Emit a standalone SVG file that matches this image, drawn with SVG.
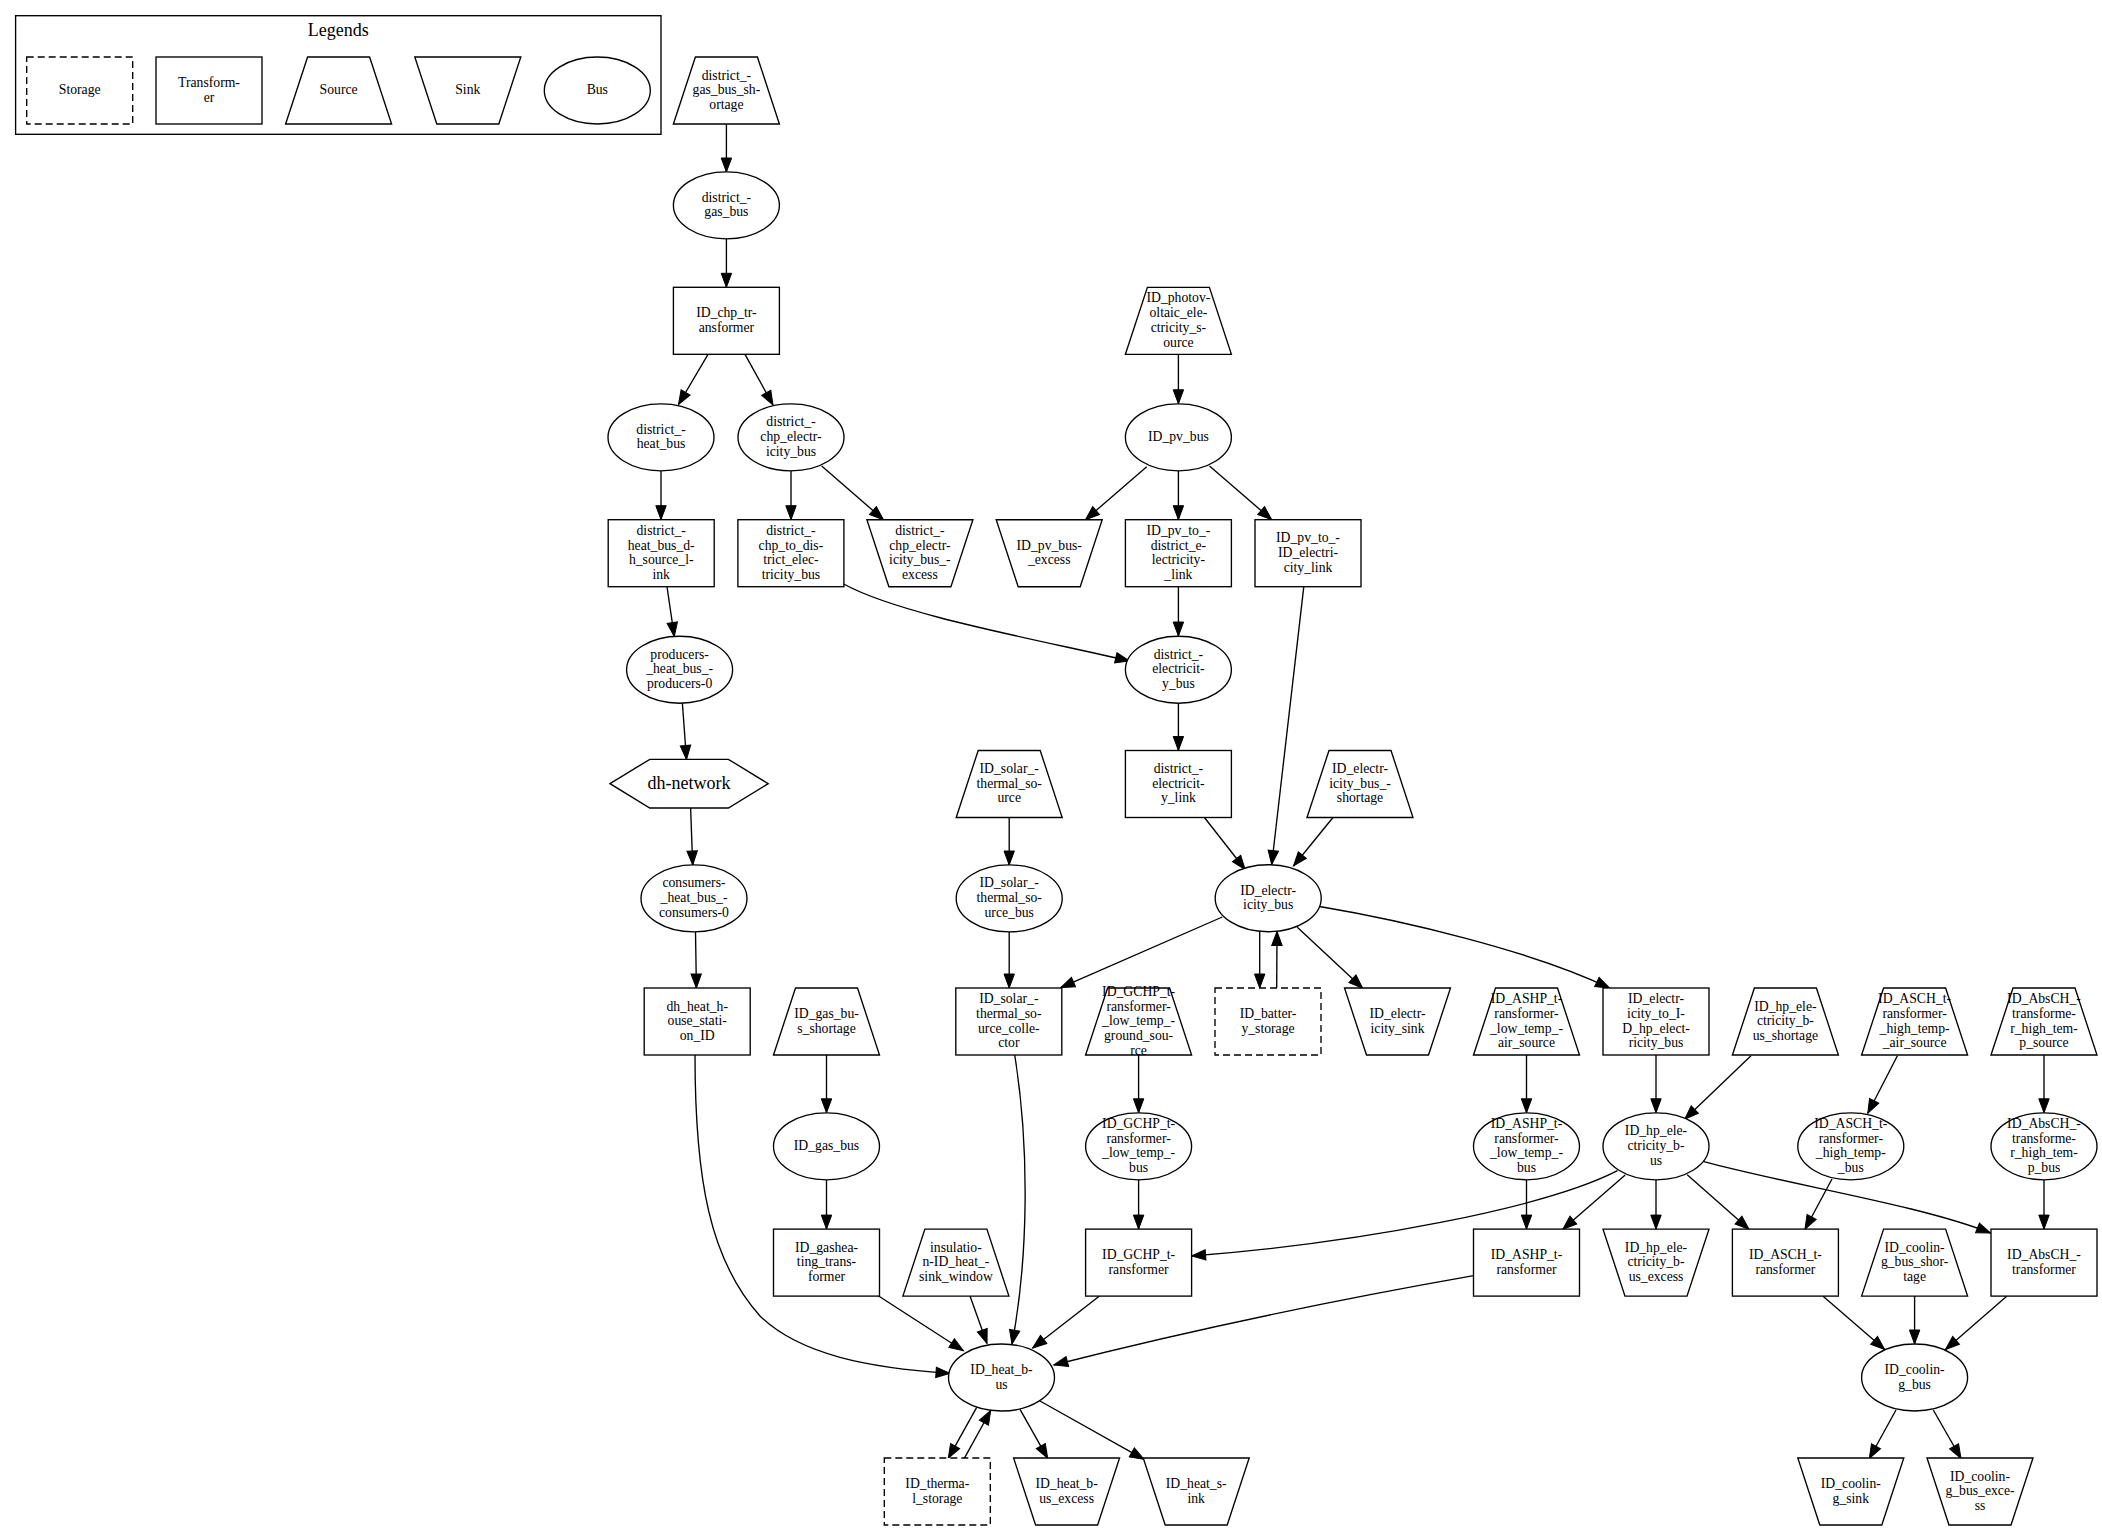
<svg xmlns="http://www.w3.org/2000/svg" width="2102" height="1531" viewBox="0 0 2102 1531">
<style>
.s{fill:#fff;stroke:#000;stroke-width:1.35}
.d{stroke-dasharray:7,4}
.e{fill:none;stroke:#000;stroke-width:1.35;marker-end:url(#a)}
text{font-family:"Liberation Serif","Times New Roman",serif;font-size:13.7px;text-anchor:middle;fill:#000}
.big{font-size:18px}
</style>
<defs>
<marker id="a" markerUnits="userSpaceOnUse" viewBox="0 0 14 10.4" markerWidth="14" markerHeight="10.4" refX="14" refY="5.2" orient="auto" style="overflow:visible">
<path d="M0,0 L14,5.2 L0,10.4 z" fill="#000" stroke="#000" stroke-width="1"/>
</marker>
</defs>
<rect width="2102" height="1531" fill="#fff"/>

<g id="legend">
<rect x="15.6" y="15.7" width="645.4" height="118.6" class="s"/>
<text class="big" x="338.3" y="36">Legends</text>
<g id="legend_storage"><rect x="26.7" y="57" width="106" height="67" class="s d"/><text x="79.7" y="94.2">Storage</text></g>
<g id="legend_transformer"><rect x="156" y="57" width="106" height="67" class="s"/><text><tspan x="209" y="86.85">Transform-</tspan><tspan x="209" y="101.55">er</tspan></text></g>
<g id="legend_source"><polygon points="285.6,124 307.6,57 369.6,57 391.6,124" class="s"/><text x="338.6" y="94.2">Source</text></g>
<g id="legend_sink"><polygon points="414.8,57 520.8,57 498.8,124 436.8,124" class="s"/><text x="467.8" y="94.2">Sink</text></g>
<g id="legend_bus"><ellipse cx="597.3" cy="90.5" rx="53" ry="33.5" class="s"/><text x="597.3" y="94.2">Bus</text></g>
</g>

<g id="connectors">
<path class="e" d="M726.4,124 L726.4,172"/>
<path class="e" d="M726.4,238.8 L726.4,287.3"/>
<path class="e" d="M708,354.3 L678.5,404.5"/>
<path class="e" d="M745,354.3 L773,405"/>
<path class="e" d="M1178.4,354.3 L1178.4,403.8"/>
<path class="e" d="M661,470.8 L661,519.7"/>
<path class="e" d="M791,470.8 L791,519.7"/>
<path class="e" d="M821.7,466 L883.5,519.7"/>
<path class="e" d="M1146.7,466.7 L1085.5,519.7"/>
<path class="e" d="M1178.4,470.8 L1178.4,519.7"/>
<path class="e" d="M1209.5,466 L1271.7,519.7"/>
<path class="e" d="M667,586.7 L674.3,636.5"/>
<path class="e" d="M843.7,584 C900,615 1040,640 1129.4,661"/>
<path class="e" d="M1178.4,586.7 L1178.4,636"/>
<path class="e" d="M1303.8,586.7 L1271.7,864.5"/>
<path class="e" d="M682.4,703.3 L686.5,759.5"/>
<path class="e" d="M1178.4,703.3 L1178.4,750.5"/>
<path class="e" d="M690.6,808 L692.7,865"/>
<path class="e" d="M1009.2,817.5 L1009.2,865"/>
<path class="e" d="M1204.4,817.5 L1245.2,869.5"/>
<path class="e" d="M1333,817.5 L1293.5,866"/>
<path class="e" d="M695.5,932 L696.4,988"/>
<path class="e" d="M1009.2,932 L1009.2,988"/>
<path class="e" d="M1222.3,917 L1060.7,987.7"/>
<path class="e" d="M1259.7,931.5 L1259.7,988"/>
<path class="e" d="M1276.7,988 L1277,931.5"/>
<path class="e" d="M1297.3,927.3 L1362.7,988.3"/>
<path class="e" d="M1319.5,906.5 C1400,920 1530,950 1609.5,988"/>
<path class="e" d="M826.5,1055 L826.5,1112.8"/>
<path class="e" d="M1138.6,1055 L1138.6,1112.8"/>
<path class="e" d="M1526.5,1055 L1526.5,1112.8"/>
<path class="e" d="M1656,1055 L1656,1112.8"/>
<path class="e" d="M1751,1055.7 L1684.7,1119.3"/>
<path class="e" d="M1897.4,1055.7 L1867.8,1113.3"/>
<path class="e" d="M2044,1055 L2044,1112.8"/>
<path class="e" d="M826.5,1179.8 L826.5,1229.1"/>
<path class="e" d="M1138.6,1179.8 L1138.6,1229.1"/>
<path class="e" d="M1526.5,1179.8 L1526.5,1229.1"/>
<path class="e" d="M1617.5,1170.7 C1545,1208 1360,1243 1191.6,1256"/>
<path class="e" d="M1625.2,1175 L1562.8,1229.3"/>
<path class="e" d="M1656,1179.8 L1656,1229.1"/>
<path class="e" d="M1687.2,1174.8 L1749,1229.3"/>
<path class="e" d="M1832,1179 L1805,1229.3"/>
<path class="e" d="M1704,1161.6 C1790,1185 1920,1205 1990.5,1233"/>
<path class="e" d="M2044,1179.8 L2044,1229.1"/>
<path class="e" d="M695,1055 C695,1180 710,1260 760,1316 C800,1355 870,1368 950,1373.3"/>
<path class="e" d="M1014.7,1055 C1030,1150 1028,1260 1012,1344"/>
<path class="e" d="M878.6,1296 L963.4,1350.7"/>
<path class="e" d="M970,1296 L987,1343.5"/>
<path class="e" d="M1099.5,1296 L1032.6,1348"/>
<path class="e" d="M1473.6,1275.7 Q1250,1315 1053.8,1365"/>
<path class="e" d="M976.7,1407.3 L948.3,1458.3"/>
<path class="e" d="M964.3,1458.3 L990.7,1410.5"/>
<path class="e" d="M1020,1409.3 L1047.7,1458.3"/>
<path class="e" d="M1040,1401 L1144,1459.3"/>
<path class="e" d="M1822.8,1296 L1884.7,1349.5"/>
<path class="e" d="M1914.6,1296 L1914.6,1344"/>
<path class="e" d="M2007,1296 L1945.5,1349.5"/>
<path class="e" d="M1896,1410 L1869.3,1458.5"/>
<path class="e" d="M1933.3,1410 L1961,1458.5"/>
</g>

<g id="district_gas_bus_shortage"><polygon points="673.4,124 695.4,57 757.4,57 779.4,124" class="s"/><text><tspan x="726.4" y="79.5">district_-</tspan><tspan x="726.4" y="94.2">gas_bus_sh-</tspan><tspan x="726.4" y="108.9">ortage</tspan></text></g>
<g id="district_gas_bus"><ellipse cx="726.4" cy="205.3" rx="53" ry="33.5" class="s"/><text><tspan x="726.4" y="201.65">district_-</tspan><tspan x="726.4" y="216.35">gas_bus</tspan></text></g>
<g id="ID_chp_transformer"><rect x="673.4" y="287.3" width="106" height="67" class="s"/><text><tspan x="726.4" y="317.15">ID_chp_tr-</tspan><tspan x="726.4" y="331.85">ansformer</tspan></text></g>
<g id="ID_photovoltaic_electricity_source"><polygon points="1125.4,354.3 1147.4,287.3 1209.4,287.3 1231.4,354.3" class="s"/><text><tspan x="1178.4" y="302.45">ID_photov-</tspan><tspan x="1178.4" y="317.15">oltaic_ele-</tspan><tspan x="1178.4" y="331.85">ctricity_s-</tspan><tspan x="1178.4" y="346.55">ource</tspan></text></g>
<g id="district_heat_bus"><ellipse cx="661" cy="437.3" rx="53" ry="33.5" class="s"/><text><tspan x="661" y="433.65">district_-</tspan><tspan x="661" y="448.35">heat_bus</tspan></text></g>
<g id="district_chp_electricity_bus"><ellipse cx="791" cy="437.3" rx="53" ry="33.5" class="s"/><text><tspan x="791" y="426.3">district_-</tspan><tspan x="791" y="441">chp_electr-</tspan><tspan x="791" y="455.7">icity_bus</tspan></text></g>
<g id="ID_pv_bus"><ellipse cx="1178.4" cy="437.3" rx="53" ry="33.5" class="s"/><text x="1178.4" y="441">ID_pv_bus</text></g>

<g id="district_heat_bus_dh_source_link"><rect x="608.2" y="519.7" width="106" height="67" class="s"/><text><tspan x="661.2" y="534.85">district_-</tspan><tspan x="661.2" y="549.55">heat_bus_d-</tspan><tspan x="661.2" y="564.25">h_source_l-</tspan><tspan x="661.2" y="578.95">ink</tspan></text></g>
<g id="district_chp_to_district_electricity_bus"><rect x="737.9" y="519.7" width="106" height="67" class="s"/><text><tspan x="790.9" y="534.85">district_-</tspan><tspan x="790.9" y="549.55">chp_to_dis-</tspan><tspan x="790.9" y="564.25">trict_elec-</tspan><tspan x="790.9" y="578.95">tricity_bus</tspan></text></g>
<g id="district_chp_electricity_bus_excess"><polygon points="866.9,519.7 972.9,519.7 950.9,586.7 888.9,586.7" class="s"/><text><tspan x="919.9" y="534.85">district_-</tspan><tspan x="919.9" y="549.55">chp_electr-</tspan><tspan x="919.9" y="564.25">icity_bus_-</tspan><tspan x="919.9" y="578.95">excess</tspan></text></g>
<g id="ID_pv_bus_excess"><polygon points="996.2,519.7 1102.2,519.7 1080.2,586.7 1018.2,586.7" class="s"/><text><tspan x="1049.2" y="549.55">ID_pv_bus-</tspan><tspan x="1049.2" y="564.25">_excess</tspan></text></g>
<g id="ID_pv_to_district_electricity_link"><rect x="1125.4" y="519.7" width="106" height="67" class="s"/><text><tspan x="1178.4" y="534.85">ID_pv_to_-</tspan><tspan x="1178.4" y="549.55">district_e-</tspan><tspan x="1178.4" y="564.25">lectricity-</tspan><tspan x="1178.4" y="578.95">_link</tspan></text></g>
<g id="ID_pv_to_ID_electricity_link"><rect x="1255" y="519.7" width="106" height="67" class="s"/><text><tspan x="1308" y="542.2">ID_pv_to_-</tspan><tspan x="1308" y="556.9">ID_electri-</tspan><tspan x="1308" y="571.6">city_link</tspan></text></g>

<g id="producers_heat_bus_producers_0"><ellipse cx="679.6" cy="669.7" rx="53" ry="33.5" class="s"/><text><tspan x="679.6" y="658.7">producers-</tspan><tspan x="679.6" y="673.4">_heat_bus_-</tspan><tspan x="679.6" y="688.1">producers-0</tspan></text></g>
<g id="district_electricity_bus"><ellipse cx="1178.4" cy="669.7" rx="53" ry="33.5" class="s"/><text><tspan x="1178.4" y="658.7">district_-</tspan><tspan x="1178.4" y="673.4">electricit-</tspan><tspan x="1178.4" y="688.1">y_bus</tspan></text></g>

<g id="dh_network"><polygon points="610,783.7 649.8,759.3 728.4,759.3 768.2,783.7 728.4,808 649.8,808" class="s"/><text class="big" x="689" y="788.5">dh-network</text></g>
<g id="ID_solar_thermal_source"><polygon points="956.2,817.5 978.2,750.5 1040.2,750.5 1062.2,817.5" class="s"/><text><tspan x="1009.2" y="773">ID_solar_-</tspan><tspan x="1009.2" y="787.7">thermal_so-</tspan><tspan x="1009.2" y="802.4">urce</tspan></text></g>
<g id="district_electricity_link"><rect x="1125.4" y="750.5" width="106" height="67" class="s"/><text><tspan x="1178.4" y="773">district_-</tspan><tspan x="1178.4" y="787.7">electricit-</tspan><tspan x="1178.4" y="802.4">y_link</tspan></text></g>
<g id="ID_electricity_bus_shortage"><polygon points="1307,817.5 1329,750.5 1391,750.5 1413,817.5" class="s"/><text><tspan x="1360" y="773">ID_electr-</tspan><tspan x="1360" y="787.7">icity_bus_-</tspan><tspan x="1360" y="802.4">shortage</tspan></text></g>

<g id="consumers_heat_bus_consumers_0"><ellipse cx="694" cy="898.4" rx="53" ry="33.5" class="s"/><text><tspan x="694" y="887.4">consumers-</tspan><tspan x="694" y="902.1">_heat_bus_-</tspan><tspan x="694" y="916.8">consumers-0</tspan></text></g>
<g id="ID_solar_thermal_source_bus"><ellipse cx="1009.2" cy="898.4" rx="53" ry="33.5" class="s"/><text><tspan x="1009.2" y="887.4">ID_solar_-</tspan><tspan x="1009.2" y="902.1">thermal_so-</tspan><tspan x="1009.2" y="916.8">urce_bus</tspan></text></g>
<g id="ID_electricity_bus"><ellipse cx="1268.2" cy="898.2" rx="53" ry="33.5" class="s"/><text><tspan x="1268.2" y="894.55">ID_electr-</tspan><tspan x="1268.2" y="909.25">icity_bus</tspan></text></g>

<g id="dh_heat_house_station_ID"><rect x="644.2" y="988" width="106" height="67" class="s"/><text><tspan x="697.2" y="1010.5">dh_heat_h-</tspan><tspan x="697.2" y="1025.2">ouse_stati-</tspan><tspan x="697.2" y="1039.9">on_ID</tspan></text></g>
<g id="ID_gas_bus_shortage"><polygon points="773.5,1055 795.5,988 857.5,988 879.5,1055" class="s"/><text><tspan x="826.5" y="1017.85">ID_gas_bu-</tspan><tspan x="826.5" y="1032.55">s_shortage</tspan></text></g>
<g id="ID_solar_thermal_source_collector"><rect x="955.8" y="988" width="106" height="67" class="s"/><text><tspan x="1008.8" y="1003.15">ID_solar_-</tspan><tspan x="1008.8" y="1017.85">thermal_so-</tspan><tspan x="1008.8" y="1032.55">urce_colle-</tspan><tspan x="1008.8" y="1047.25">ctor</tspan></text></g>
<g id="ID_GCHP_transformer_low_temp_ground_source"><polygon points="1085.6,1055 1107.6,988 1169.6,988 1191.6,1055" class="s"/><text><tspan x="1138.6" y="995.8">ID_GCHP_t-</tspan><tspan x="1138.6" y="1010.5">ransformer-</tspan><tspan x="1138.6" y="1025.2">_low_temp_-</tspan><tspan x="1138.6" y="1039.9">ground_sou-</tspan><tspan x="1138.6" y="1054.6">rce</tspan></text></g>
<g id="ID_battery_storage"><rect x="1215" y="988" width="106" height="67" class="s d"/><text><tspan x="1268" y="1017.85">ID_batter-</tspan><tspan x="1268" y="1032.55">y_storage</tspan></text></g>
<g id="ID_electricity_sink"><polygon points="1344.5,988 1450.5,988 1428.5,1055 1366.5,1055" class="s"/><text><tspan x="1397.5" y="1017.85">ID_electr-</tspan><tspan x="1397.5" y="1032.55">icity_sink</tspan></text></g>
<g id="ID_ASHP_transformer_low_temp_air_source"><polygon points="1473.5,1055 1495.5,988 1557.5,988 1579.5,1055" class="s"/><text><tspan x="1526.5" y="1003.15">ID_ASHP_t-</tspan><tspan x="1526.5" y="1017.85">ransformer-</tspan><tspan x="1526.5" y="1032.55">_low_temp_-</tspan><tspan x="1526.5" y="1047.25">air_source</tspan></text></g>
<g id="ID_electricity_to_ID_hp_electricity_bus"><rect x="1603" y="988" width="106" height="67" class="s"/><text><tspan x="1656" y="1003.15">ID_electr-</tspan><tspan x="1656" y="1017.85">icity_to_I-</tspan><tspan x="1656" y="1032.55">D_hp_elect-</tspan><tspan x="1656" y="1047.25">ricity_bus</tspan></text></g>
<g id="ID_hp_electricity_bus_shortage"><polygon points="1732.4,1055 1754.4,988 1816.4,988 1838.4,1055" class="s"/><text><tspan x="1785.4" y="1010.5">ID_hp_ele-</tspan><tspan x="1785.4" y="1025.2">ctricity_b-</tspan><tspan x="1785.4" y="1039.9">us_shortage</tspan></text></g>
<g id="ID_ASCH_transformer_high_temp_air_source"><polygon points="1861.6,1055 1883.6,988 1945.6,988 1967.6,1055" class="s"/><text><tspan x="1914.6" y="1003.15">ID_ASCH_t-</tspan><tspan x="1914.6" y="1017.85">ransformer-</tspan><tspan x="1914.6" y="1032.55">_high_temp-</tspan><tspan x="1914.6" y="1047.25">_air_source</tspan></text></g>
<g id="ID_AbsCH_transformer_high_temp_source"><polygon points="1991,1055 2013,988 2075,988 2097,1055" class="s"/><text><tspan x="2044" y="1003.15">ID_AbsCH_-</tspan><tspan x="2044" y="1017.85">transforme-</tspan><tspan x="2044" y="1032.55">r_high_tem-</tspan><tspan x="2044" y="1047.25">p_source</tspan></text></g>

<g id="ID_gas_bus"><ellipse cx="826.5" cy="1146.3" rx="53" ry="33.5" class="s"/><text x="826.5" y="1150">ID_gas_bus</text></g>
<g id="ID_GCHP_transformer_low_temp_bus"><ellipse cx="1138.6" cy="1146.3" rx="53" ry="33.5" class="s"/><text><tspan x="1138.6" y="1127.95">ID_GCHP_t-</tspan><tspan x="1138.6" y="1142.65">ransformer-</tspan><tspan x="1138.6" y="1157.35">_low_temp_-</tspan><tspan x="1138.6" y="1172.05">bus</tspan></text></g>
<g id="ID_ASHP_transformer_low_temp_bus"><ellipse cx="1526.5" cy="1146.3" rx="53" ry="33.5" class="s"/><text><tspan x="1526.5" y="1127.95">ID_ASHP_t-</tspan><tspan x="1526.5" y="1142.65">ransformer-</tspan><tspan x="1526.5" y="1157.35">_low_temp_-</tspan><tspan x="1526.5" y="1172.05">bus</tspan></text></g>
<g id="ID_hp_electricity_bus"><ellipse cx="1656" cy="1146.3" rx="53" ry="33.5" class="s"/><text><tspan x="1656" y="1135.3">ID_hp_ele-</tspan><tspan x="1656" y="1150">ctricity_b-</tspan><tspan x="1656" y="1164.7">us</tspan></text></g>
<g id="ID_ASCH_transformer_high_temp_bus"><ellipse cx="1850.8" cy="1146.3" rx="53" ry="33.5" class="s"/><text><tspan x="1850.8" y="1127.95">ID_ASCH_t-</tspan><tspan x="1850.8" y="1142.65">ransformer-</tspan><tspan x="1850.8" y="1157.35">_high_temp-</tspan><tspan x="1850.8" y="1172.05">_bus</tspan></text></g>
<g id="ID_AbsCH_transformer_high_temp_bus"><ellipse cx="2044" cy="1146.3" rx="53" ry="33.5" class="s"/><text><tspan x="2044" y="1127.95">ID_AbsCH_-</tspan><tspan x="2044" y="1142.65">transforme-</tspan><tspan x="2044" y="1157.35">r_high_tem-</tspan><tspan x="2044" y="1172.05">p_bus</tspan></text></g>

<g id="ID_gasheating_transformer"><rect x="773.5" y="1229.1" width="106" height="67" class="s"/><text><tspan x="826.5" y="1251.6">ID_gashea-</tspan><tspan x="826.5" y="1266.3">ting_trans-</tspan><tspan x="826.5" y="1281">former</tspan></text></g>
<g id="insulation_ID_heat_sink_window"><polygon points="902.9,1296.1 924.9,1229.1 986.9,1229.1 1008.9,1296.1" class="s"/><text><tspan x="955.9" y="1251.6">insulatio-</tspan><tspan x="955.9" y="1266.3">n-ID_heat_-</tspan><tspan x="955.9" y="1281">sink_window</tspan></text></g>
<g id="ID_GCHP_transformer"><rect x="1085.6" y="1229.1" width="106" height="67" class="s"/><text><tspan x="1138.6" y="1258.95">ID_GCHP_t-</tspan><tspan x="1138.6" y="1273.65">ransformer</tspan></text></g>
<g id="ID_ASHP_transformer"><rect x="1473.5" y="1229.1" width="106" height="67" class="s"/><text><tspan x="1526.5" y="1258.95">ID_ASHP_t-</tspan><tspan x="1526.5" y="1273.65">ransformer</tspan></text></g>
<g id="ID_hp_electricity_bus_excess"><polygon points="1603,1229.1 1709,1229.1 1687,1296.1 1625,1296.1" class="s"/><text><tspan x="1656" y="1251.6">ID_hp_ele-</tspan><tspan x="1656" y="1266.3">ctricity_b-</tspan><tspan x="1656" y="1281">us_excess</tspan></text></g>
<g id="ID_ASCH_transformer"><rect x="1732.4" y="1229.1" width="106" height="67" class="s"/><text><tspan x="1785.4" y="1258.95">ID_ASCH_t-</tspan><tspan x="1785.4" y="1273.65">ransformer</tspan></text></g>
<g id="ID_cooling_bus_shortage"><polygon points="1861.6,1296.1 1883.6,1229.1 1945.6,1229.1 1967.6,1296.1" class="s"/><text><tspan x="1914.6" y="1251.6">ID_coolin-</tspan><tspan x="1914.6" y="1266.3">g_bus_shor-</tspan><tspan x="1914.6" y="1281">tage</tspan></text></g>
<g id="ID_AbsCH_transformer"><rect x="1991" y="1229.1" width="106" height="67" class="s"/><text><tspan x="2044" y="1258.95">ID_AbsCH_-</tspan><tspan x="2044" y="1273.65">transformer</tspan></text></g>

<g id="ID_heat_bus"><ellipse cx="1001.5" cy="1377.5" rx="53" ry="33.5" class="s"/><text><tspan x="1001.5" y="1373.85">ID_heat_b-</tspan><tspan x="1001.5" y="1388.55">us</tspan></text></g>
<g id="ID_cooling_bus"><ellipse cx="1914.6" cy="1377.5" rx="53" ry="33.5" class="s"/><text><tspan x="1914.6" y="1373.85">ID_coolin-</tspan><tspan x="1914.6" y="1388.55">g_bus</tspan></text></g>

<g id="ID_thermal_storage"><rect x="884.3" y="1458" width="106" height="67" class="s d"/><text><tspan x="937.3" y="1487.85">ID_therma-</tspan><tspan x="937.3" y="1502.55">l_storage</tspan></text></g>
<g id="ID_heat_bus_excess"><polygon points="1013.6,1458 1119.6,1458 1097.6,1525 1035.6,1525" class="s"/><text><tspan x="1066.6" y="1487.85">ID_heat_b-</tspan><tspan x="1066.6" y="1502.55">us_excess</tspan></text></g>
<g id="ID_heat_sink"><polygon points="1143.2,1458 1249.2,1458 1227.2,1525 1165.2,1525" class="s"/><text><tspan x="1196.2" y="1487.85">ID_heat_s-</tspan><tspan x="1196.2" y="1502.55">ink</tspan></text></g>
<g id="ID_cooling_sink"><polygon points="1797.8,1458 1903.8,1458 1881.8,1525 1819.8,1525" class="s"/><text><tspan x="1850.8" y="1487.85">ID_coolin-</tspan><tspan x="1850.8" y="1502.55">g_sink</tspan></text></g>
<g id="ID_cooling_bus_excess"><polygon points="1927,1458 2033,1458 2011,1525 1949,1525" class="s"/><text><tspan x="1980" y="1480.5">ID_coolin-</tspan><tspan x="1980" y="1495.2">g_bus_exce-</tspan><tspan x="1980" y="1509.9">ss</tspan></text></g>
</svg>
